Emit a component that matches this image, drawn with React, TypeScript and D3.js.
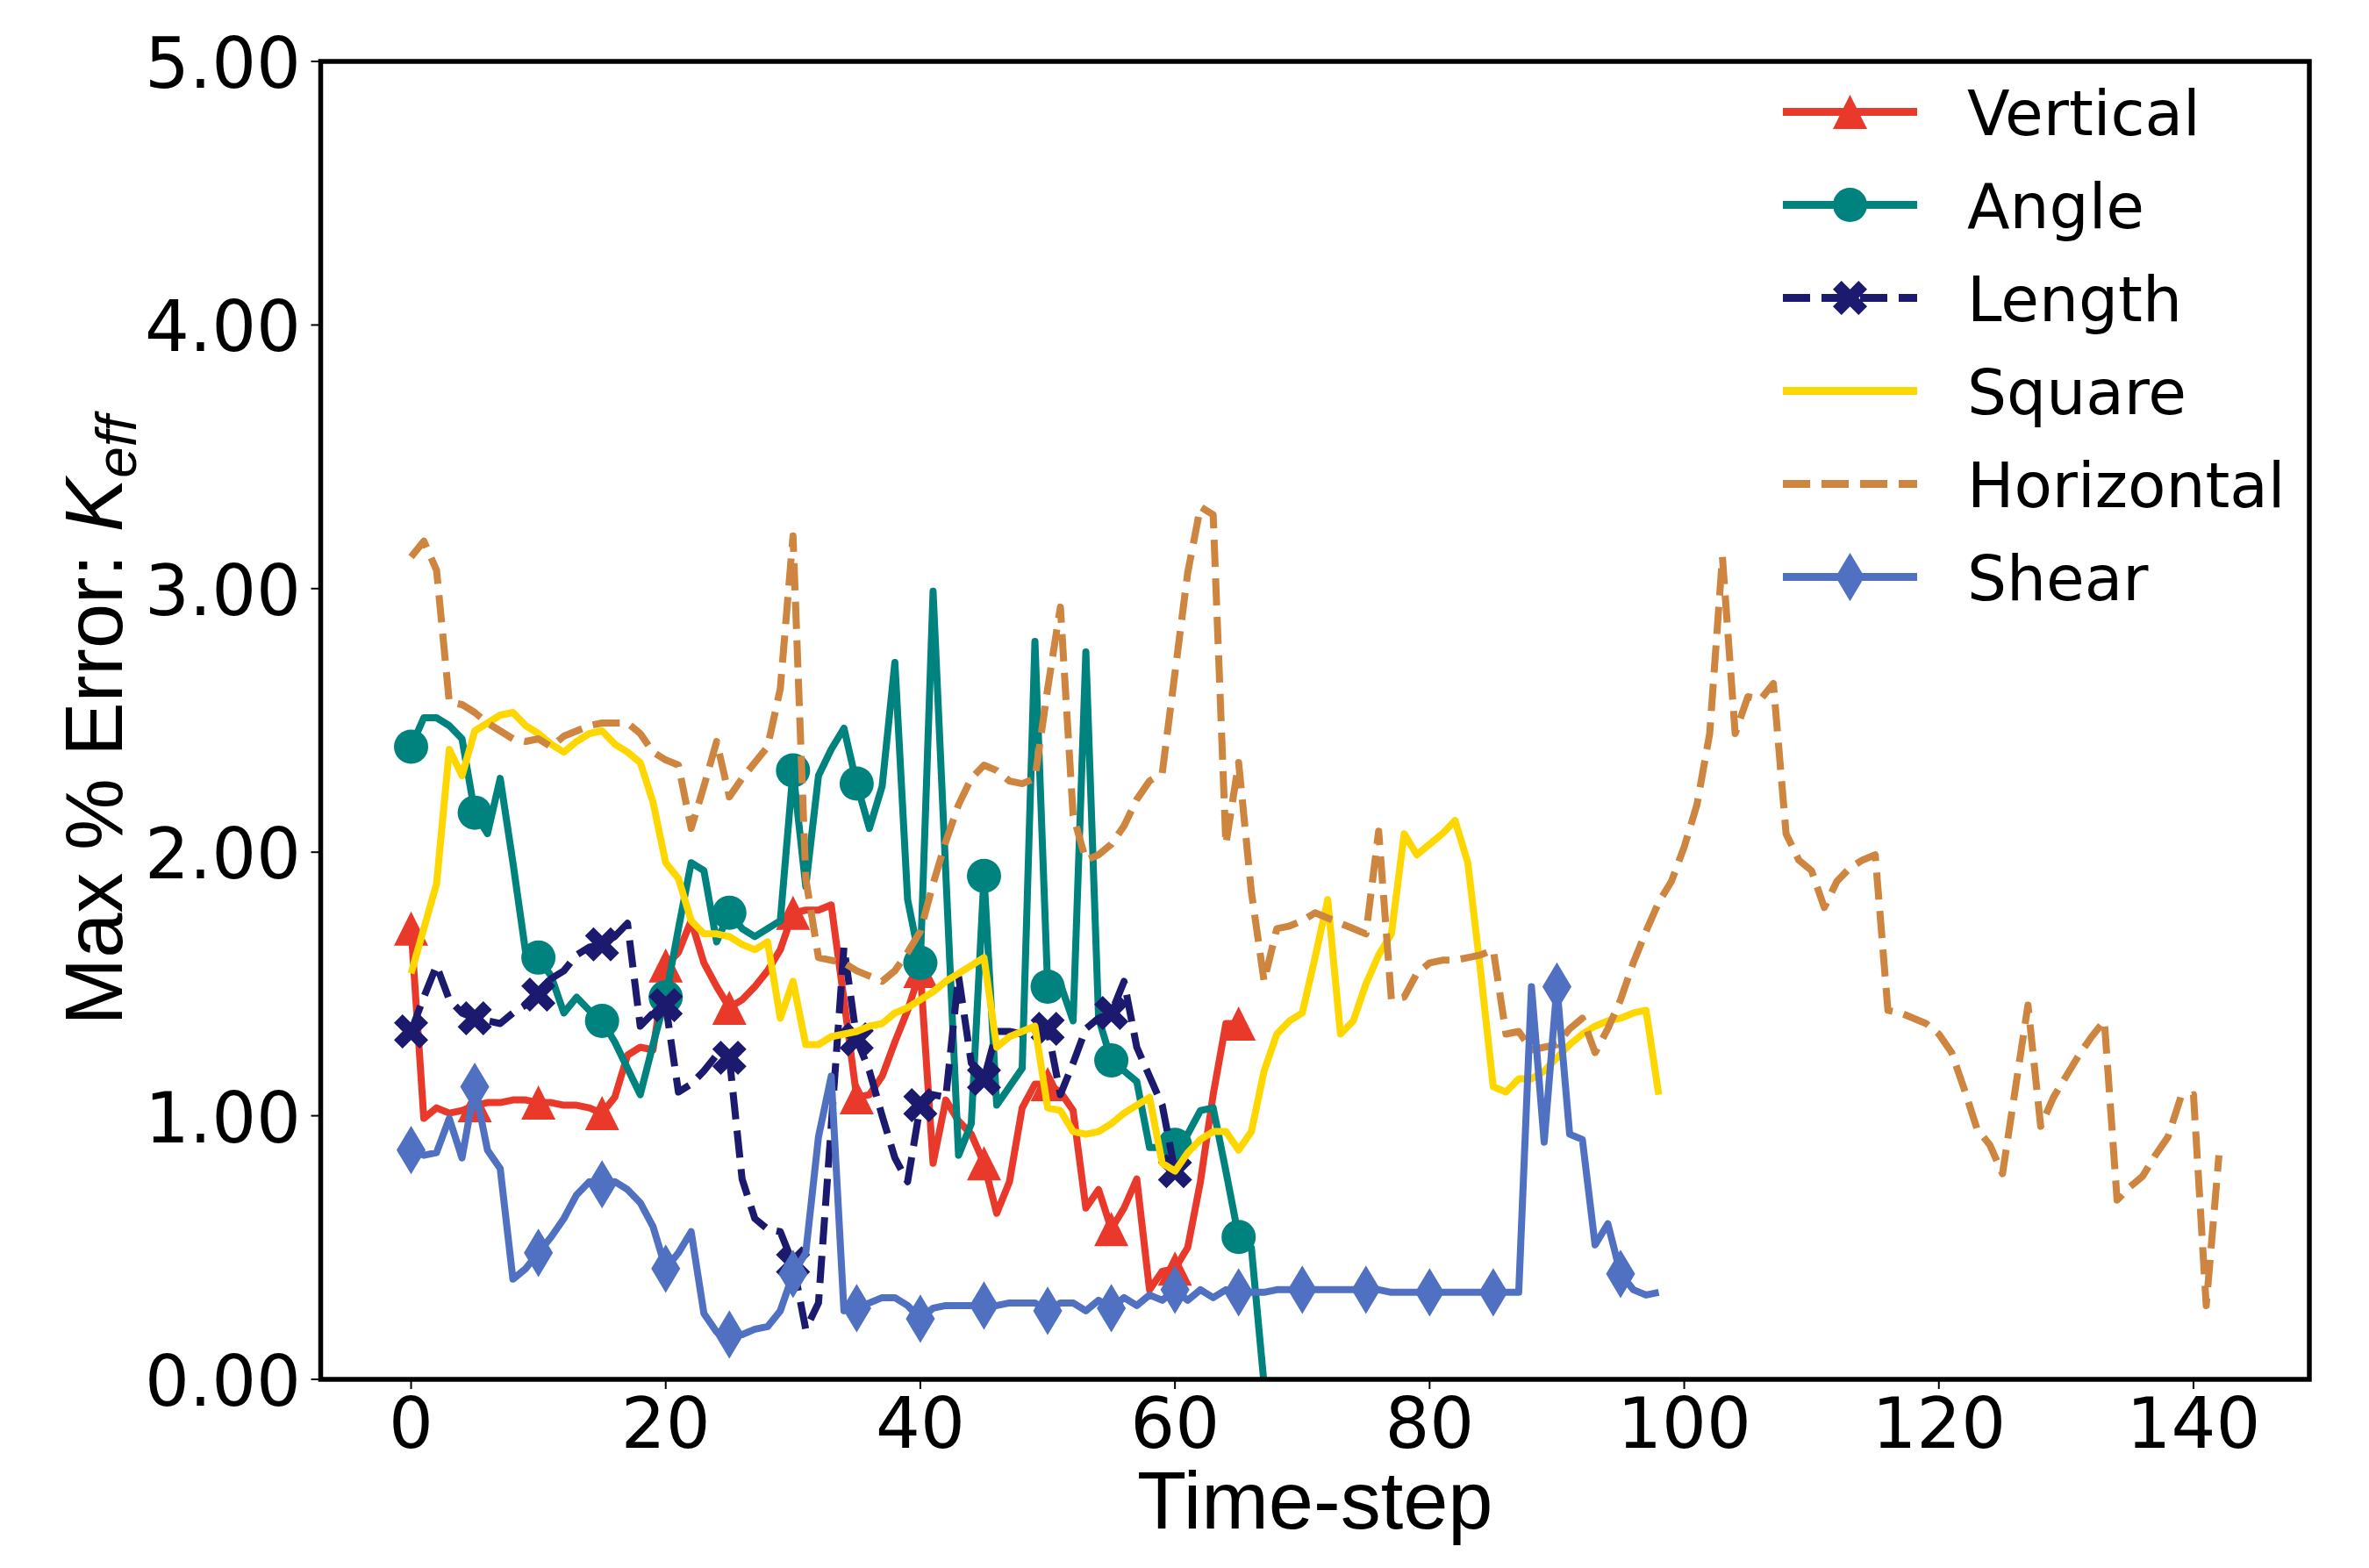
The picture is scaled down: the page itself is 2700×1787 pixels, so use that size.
import * as d3 from "d3";

const W = 2700;
const H = 1787;

// plot box (pixel edges of the spines)
const L = 365.5, R = 2632, T = 70, B = 1572;

const xTicks = [0, 20, 40, 60, 80, 100, 120, 140];
const yTicks = [0, 1, 2, 3, 4, 5];

const vertical = [
  1.71, 0.99, 1.03, 1.01, 1.02, 1.04, 1.05, 1.05, 1.06, 1.06,
  1.05, 1.05, 1.04, 1.04, 1.03, 1.01, 1.07, 1.23, 1.26, 1.25,
  1.57, 1.62, 1.74, 1.58, 1.49, 1.41, 1.44, 1.49, 1.55, 1.63,
  1.77, 1.78, 1.78, 1.8, 1.44, 1.07, 1.08, 1.15, 1.28, 1.4,
  1.55, 0.82, 1.06, 0.98, 0.93, 0.82, 0.63, 0.75, 1.03, 1.12,
  1.12, 1.09, 1.02, 0.65, 0.72, 0.57, 0.65, 0.76, 0.34, 0.41,
  0.42, 0.5, 0.75, 1.08, 1.35, 1.35,
];

const angle = [
  2.4, 2.51, 2.51, 2.48, 2.43, 2.15, 2.07, 2.28, 1.96, 1.62,
  1.6, 1.53, 1.39, 1.45, 1.4, 1.36, 1.28, 1.18, 1.08, 1.27,
  1.45, 1.71, 1.96, 1.93, 1.66, 1.77, 1.71, 1.68, 1.71, 1.74,
  2.31, 1.87, 2.29, 2.39, 2.47, 2.26, 2.09, 2.25, 2.72, 1.82,
  1.58, 2.99, 1.92, 0.85, 0.97, 1.91, 1.04, 1.11, 1.18, 2.8,
  1.49, 1.5, 1.36, 2.76, 1.37, 1.21, 1.17, 1.13, 0.88, 0.88,
  0.89, 0.93, 1.02, 1.03, 0.79, 0.54, 0.5, -0.02,
];

const length = [
  1.32, 1.45, 1.57, 1.44, 1.39, 1.37, 1.36, 1.35, 1.39, 1.42,
  1.46, 1.52, 1.55, 1.61, 1.64, 1.65, 1.68, 1.73, 1.34, 1.39,
  1.42, 1.09, 1.12, 1.17, 1.23, 1.22, 0.76, 0.61, 0.57, 0.56,
  0.44, 0.19, 0.29, 0.96, 1.64, 1.29, 1.17, 1.0, 0.84, 0.75,
  1.04, 1.08, 1.07, 1.53, 1.2, 1.14, 1.32, 1.32, 1.31, 1.32,
  1.33, 1.08, 1.2, 1.33, 1.37, 1.39, 1.51, 1.26, 1.15, 1.04,
  0.79,
];

const square = [
  1.54, 1.71, 1.88, 2.39, 2.29, 2.46, 2.49, 2.52, 2.53, 2.48,
  2.45, 2.41, 2.38, 2.42, 2.45, 2.46, 2.41, 2.38, 2.34, 2.19,
  1.96, 1.9, 1.74, 1.69, 1.69, 1.68, 1.65, 1.63, 1.66, 1.37,
  1.51, 1.27, 1.27, 1.3, 1.31, 1.32, 1.34, 1.35, 1.39, 1.41,
  1.44, 1.47, 1.51, 1.54, 1.57, 1.6, 1.26, 1.3, 1.32, 1.34,
  1.03, 1.02, 0.94, 0.93, 0.94, 0.97, 1.01, 1.04, 1.07, 0.82,
  0.79, 0.86, 0.91, 0.94, 0.94, 0.87, 0.94, 1.17, 1.31, 1.36,
  1.39, 1.6, 1.82, 1.31, 1.36, 1.5, 1.61, 1.69, 2.07, 1.99,
  2.03, 2.07, 2.12, 1.96, 1.55, 1.11, 1.09, 1.14, 1.14, 1.17,
  1.22, 1.27, 1.31, 1.34, 1.36, 1.37, 1.39, 1.4, 1.08,
];

const horizontal = [
  3.12, 3.18, 3.07, 2.57, 2.56, 2.53, 2.49, 2.46, 2.43, 2.42,
  2.43, 2.4, 2.44, 2.46, 2.48, 2.49, 2.49, 2.49, 2.45, 2.38,
  2.35, 2.33, 2.09, 2.25, 2.42, 2.21, 2.28, 2.34, 2.4, 2.62,
  3.2, 1.9, 1.6, 1.59, 1.58, 1.55, 1.53, 1.51, 1.55, 1.62,
  1.7, 1.88, 2.04, 2.18, 2.28, 2.33, 2.31, 2.27, 2.26, 2.28,
  2.62, 2.93, 2.14, 1.97, 1.99, 2.03, 2.1, 2.2, 2.27, 2.3,
  2.68, 3.06, 3.31, 3.28, 2.03, 2.34, 1.85, 1.51, 1.71, 1.72,
  1.74, 1.77, 1.75, 1.73, 1.71, 1.69, 2.08, 1.44, 1.45, 1.54,
  1.58, 1.59, 1.59, 1.6, 1.61, 1.63, 1.31, 1.32, 1.25, 1.26,
  1.27, 1.33, 1.37, 1.24, 1.33, 1.44, 1.58, 1.7, 1.81, 1.89,
  2.02, 2.18, 2.45, 3.12, 2.45, 2.59, 2.58, 2.64, 2.07, 1.97,
  1.93, 1.79, 1.89, 1.94, 1.97, 1.99, 1.4, 1.39, 1.37, 1.35,
  1.31, 1.24, 1.1, 0.95, 0.89, 0.78, 1.1, 1.42, 0.96, 1.07,
  1.15, 1.23, 1.3, 1.36, 0.68, 0.73, 0.77, 0.85, 0.92, 1.07,
  1.08, 0.28, 0.85,
];

const shear = [
  0.87, 0.85, 0.86, 0.99, 0.84, 1.11, 0.87, 0.8, 0.38, 0.42,
  0.48, 0.54, 0.61, 0.7, 0.75, 0.74, 0.75, 0.72, 0.67, 0.58,
  0.42, 0.48, 0.56, 0.25, 0.18, 0.17, 0.17, 0.19, 0.2, 0.26,
  0.4, 0.48, 0.92, 1.15, 0.26, 0.27, 0.29, 0.31, 0.31, 0.28,
  0.23, 0.27, 0.28, 0.28, 0.28, 0.28, 0.28, 0.29, 0.29, 0.29,
  0.26, 0.29, 0.29, 0.26, 0.3, 0.27, 0.31, 0.28, 0.32, 0.3,
  0.34, 0.3, 0.34, 0.31, 0.34, 0.33, 0.33, 0.33, 0.34, 0.34,
  0.34, 0.34, 0.34, 0.34, 0.34, 0.34, 0.34, 0.33, 0.33, 0.33,
  0.33, 0.33, 0.33, 0.33, 0.33, 0.33, 0.33, 0.33, 1.49, 0.9,
  1.49, 0.93, 0.91, 0.51, 0.59, 0.4, 0.34, 0.32, 0.33,
];

type Marker = "tri" | "circle" | "x" | "diamond" | null;

const series: { name: string; values: number[]; color: string; dashed: boolean; marker: Marker }[] = [
  { name: "Vertical", values: vertical, color: "#E8392A", dashed: false, marker: "tri" },
  { name: "Angle", values: angle, color: "#00827E", dashed: false, marker: "circle" },
  { name: "Length", values: length, color: "#1B1A6E", dashed: true, marker: "x" },
  { name: "Square", values: square, color: "#FFD700", dashed: false, marker: null },
  { name: "Horizontal", values: horizontal, color: "#CD853F", dashed: true, marker: null },
  { name: "Shear", values: shear, color: "#5070C2", dashed: false, marker: "diamond" },
];

const MS = 39; // marker size in px
const LW = 8;
const DASH = "31,13";

// matplotlib-like marker outlines, centred on 0,0
function markerPath(m: Marker, s: number): string {
  const h = s / 2;
  if (m === "tri") return `M0,${-h}L${-h},${h}L${h},${h}Z`;
  if (m === "circle") return `M${h},0A${h},${h} 0 1,1 ${-h},0A${h},${h} 0 1,1 ${h},0Z`;
  if (m === "diamond") {
    const dy = (s * Math.SQRT2) / 2;
    const dx = dy * 0.6;
    return `M0,${-dy}L${dx},0L0,${dy}L${-dx},0Z`;
  }
  if (m === "x") {
    const pts = [
      [-1, -2], [0, -1], [1, -2], [2, -1], [1, 0], [2, 1],
      [1, 2], [0, 1], [-1, 2], [-2, 1], [-1, 0], [-2, -1],
    ];
    return "M" + pts.map(([a, b]) => `${(a * s) / 4},${(b * s) / 4}`).join("L") + "Z";
  }
  return "";
}

export default function App() {
  const x = d3.scaleLinear().domain([-7.1, 149.1]).range([L, R]);
  const y = d3.scaleLinear().domain([0, 5]).range([B, T]);

  const line = d3
    .line<number>()
    .x((_, i) => x(i))
    .y((d) => y(d));

  const tickFont = "DejaVu Sans, sans-serif";
  const labelFont = "Liberation Sans, Arial, sans-serif";

  const legX0 = 2032, legX1 = 2185, legTextX = 2242, legY0 = 127.6, legDy = 106;

  return (
    <svg
      width={W}
      height={H}
      viewBox={`0 0 ${W} ${H}`}
      style={{ position: "absolute", left: 0, top: 0, background: "#fff" }}
    >
      <defs>
        <clipPath id="plot-clip">
          <rect x={L} y={T} width={R - L} height={B - T} />
        </clipPath>
      </defs>
      <rect width={W} height={H} fill="#fff" />

      <g clipPath="url(#plot-clip)">
        {series.map((s) => (
          <g key={s.name}>
            <path
              d={line(s.values) ?? ""}
              fill="none"
              stroke={s.color}
              strokeWidth={LW}
              strokeDasharray={s.dashed ? DASH : undefined}
              strokeLinejoin="round"
            />
            {s.marker &&
              s.values.map((v, i) =>
                i % 5 === 0 ? (
                  <path
                    key={i}
                    d={markerPath(s.marker, MS)}
                    transform={`translate(${x(i)},${y(v)})`}
                    fill={s.color}
                  />
                ) : null
              )}
          </g>
        ))}
      </g>

      {/* ticks */}
      {xTicks.map((t) => (
        <g key={`x${t}`}>
          <line x1={x(t)} x2={x(t)} y1={B} y2={B + 11} stroke="#000" strokeWidth={2} />
          <text x={x(t)} y={1650} textAnchor="middle" fontFamily={tickFont} fontSize={80}>
            {t}
          </text>
        </g>
      ))}
      {yTicks.map((t) => (
        <g key={`y${t}`}>
          <line x1={L - 11} x2={L} y1={y(t)} y2={y(t)} stroke="#000" strokeWidth={2} />
          <text x={343} y={y(t) + 30} textAnchor="end" fontFamily={tickFont} fontSize={80}>
            {t.toFixed(2)}
          </text>
        </g>
      ))}

      <rect x={L} y={T} width={R - L} height={B - T} fill="none" stroke="#000" strokeWidth={5.5} />

      {/* axis labels */}
      <text x={(L + R) / 2} y={1742} textAnchor="middle" fontFamily={labelFont} fontSize={92}>
        Time-step
      </text>
      <text
        transform={`translate(139,${(T + B) / 2}) rotate(-90)`}
        textAnchor="middle"
        fontFamily={labelFont}
        fontSize={92}
      >
        Max % Error: <tspan fontStyle="italic">K</tspan>
        <tspan fontStyle="italic" fontSize={64} dy={16}>
          eff
        </tspan>
      </text>

      {/* legend */}
      {series.map((s, k) => {
        const cy = legY0 + k * legDy;
        return (
          <g key={`leg${s.name}`}>
            <line
              x1={legX0}
              x2={legX1}
              y1={cy}
              y2={cy}
              stroke={s.color}
              strokeWidth={LW + 1}
              strokeDasharray={s.dashed ? DASH : undefined}
            />
            {s.marker && (
              <path
                d={markerPath(s.marker, MS)}
                transform={`translate(${(legX0 + legX1) / 2},${cy})`}
                fill={s.color}
              />
            )}
            <text x={legTextX} y={cy + 26} fontFamily={tickFont} fontSize={71}>
              {s.name}
            </text>
          </g>
        );
      })}
    </svg>
  );
}
